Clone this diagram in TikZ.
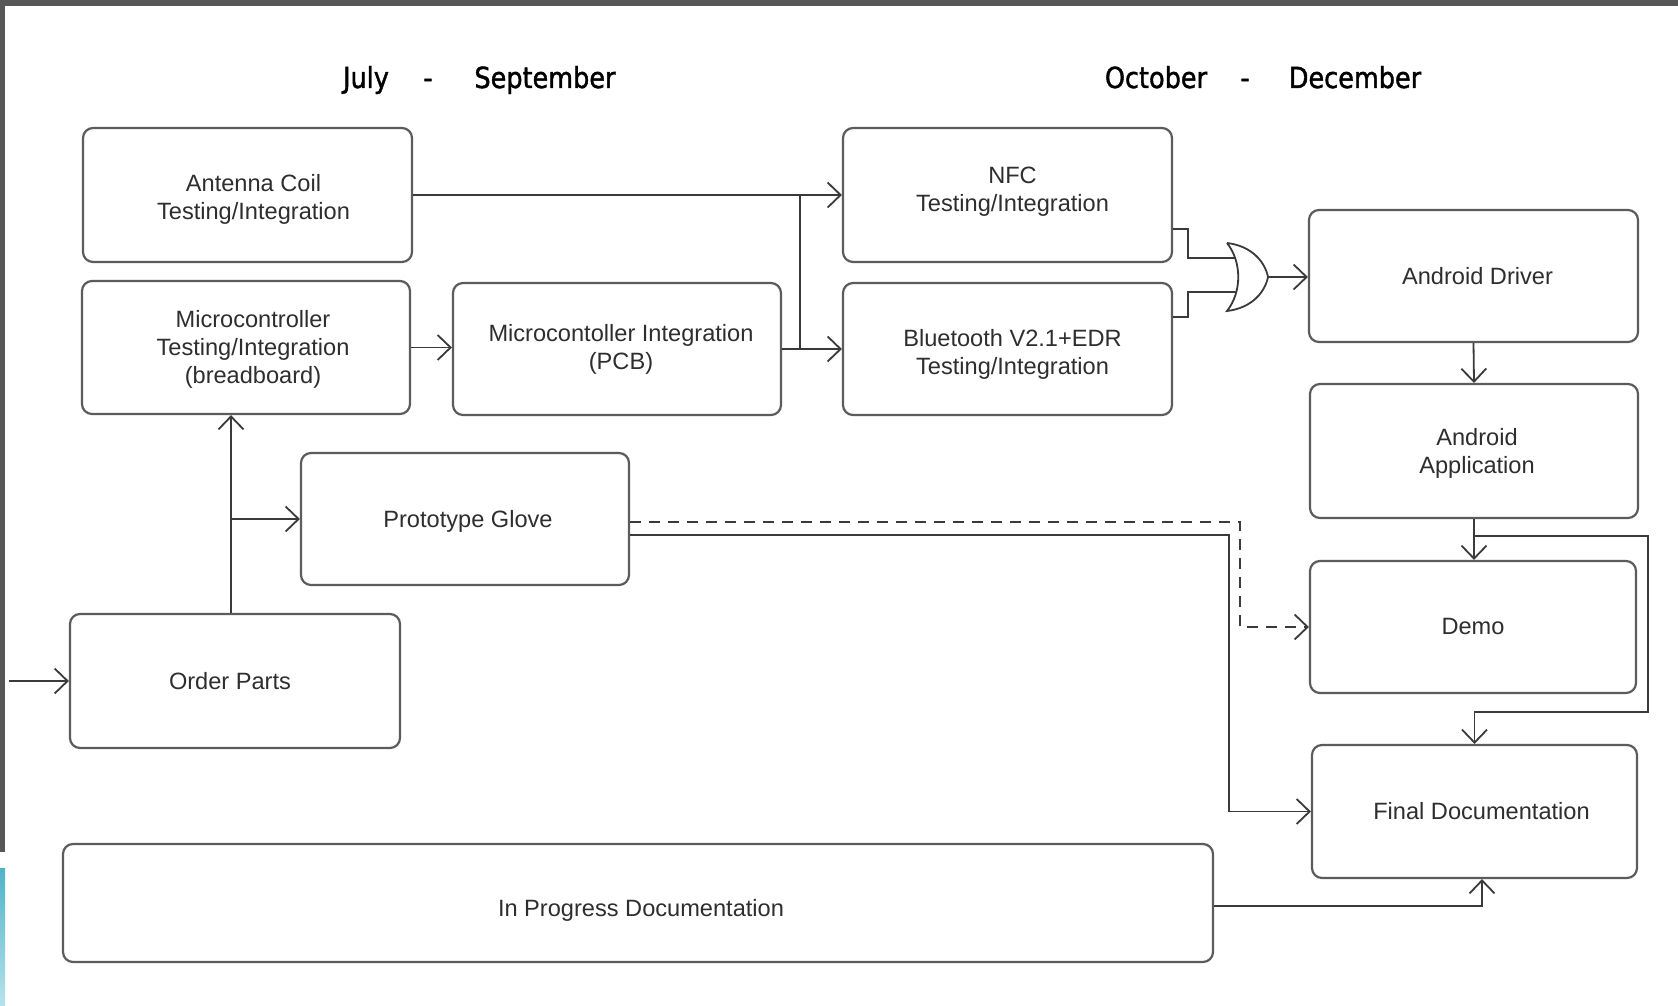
\documentclass[tikz,border=0pt]{standalone}
\usepackage{fontspec}
\setmainfont{Liberation Sans}
\newfontfamily\hdrfont[FakeBold=1.4,FakeStretch=0.88]{DejaVu Sans}
\usetikzlibrary{arrows.meta,calc}
\definecolor{boxline}{HTML}{5C5C5C}
\definecolor{linec}{HTML}{3A3A3A}
\definecolor{txt}{HTML}{2E2E2E}
\definecolor{framebar}{HTML}{575757}
\definecolor{stripa}{HTML}{4FB3C8}
\definecolor{stripb}{HTML}{B8E2EC}
\begin{document}
\begin{tikzpicture}[x=1pt,y=-1pt,
  box/.style={draw=boxline, line width=2.2pt, rounded corners=10pt, fill=white, inner sep=0pt},
  lbl/.style={text=txt, align=center, font=\fontsize{23.6}{27.8}\selectfont, inner sep=0pt},
  conn/.style={draw=linec, line width=1.8pt},
  arr/.style={conn, -{Straight Barb[length=13pt,width=25pt]}},
  hdr/.style={font=\hdrfont\fontsize{29}{32}\selectfont, anchor=base, text=black}]
\useasboundingbox (0,0) rectangle (1678,1006);
\fill[white] (0,0) rectangle (1678,1006);
\fill[framebar] (0,0) rectangle (1678,6);
\fill[framebar] (0,0) rectangle (5,852);
\shade[top color=stripa, bottom color=stripb] (0,868) rectangle (5,1006);

% headers
\node[hdr] (h1) at (366,88) {July};
\node[hdr] (h2) at (428,88) {-};
\node[hdr] (h3) at (545,88) {September};
\node[hdr] (h4) at (1156,88) {October};
\node[hdr] (h5) at (1245,88) {-};
\node[hdr] (h6) at (1355,88) {December};

% boxes
\node[box, minimum width=329pt, minimum height=134pt,
  label={[lbl,name=antenna-t,xshift=6pt,yshift=-4pt]center:{Antenna Coil\\Testing/Integration}}] (antenna) at (247.5,195) {};
\node[box, minimum width=328pt, minimum height=133pt,
  label={[lbl,name=microtest-t,xshift=7pt,yshift=-2pt]center:{Microcontroller\\Testing/Integration\\(breadboard)}}] (microtest) at (246,347.5) {};
\node[box, minimum width=328pt, minimum height=132pt,
  label={[lbl,name=microint-t,xshift=4pt]center:{Microcontoller Integration\\(PCB)}}] (microint) at (617,349) {};
\node[box, minimum width=329pt, minimum height=134pt,
  label={[lbl,name=nfc-t,xshift=5pt,yshift=3pt]center:{NFC\\Testing/Integration}}] (nfc) at (1007.5,195) {};
\node[box, minimum width=329pt, minimum height=132pt,
  label={[lbl,name=bt-t,xshift=5pt,yshift=-5pt]center:{Bluetooth V2.1+EDR\\Testing/Integration}}] (bt) at (1007.5,349) {};
\node[box, minimum width=329pt, minimum height=132pt,
  label={[lbl,name=driver-t,xshift=4pt]center:{Android Driver}}] (driver) at (1473.5,276) {};
\node[box, minimum width=328pt, minimum height=134pt,
  label={[lbl,name=app-t,xshift=3pt,yshift=-2pt]center:{Android\\Application}}] (app) at (1474,451) {};
\node[box, minimum width=326pt, minimum height=132pt,
  label={[lbl,name=demo-t,yshift=1pt]center:{Demo}}] (demo) at (1473,627) {};
\node[box, minimum width=325pt, minimum height=133pt,
  label={[lbl,name=final-t,xshift=7pt]center:{Final Documentation}}] (final) at (1474.5,811.5) {};
\node[box, minimum width=328pt, minimum height=132pt,
  label={[lbl,name=glove-t,xshift=3pt,yshift=-2pt]center:{Prototype Glove}}] (glove) at (465,519) {};
\node[box, minimum width=330pt, minimum height=134pt,
  label={[lbl,name=order-t,xshift=-5pt]center:{Order Parts}}] (order) at (235,681) {};
\node[box, minimum width=1150pt, minimum height=118pt,
  label={[lbl,name=ipd-t,xshift=3pt,yshift=-7pt]center:{In Progress Documentation}}] (ipd) at (638,903) {};

% connectors
\coordinate (in) at (9,681);
\draw[arr] (in) -- (order.west);
\coordinate (o1) at ([xshift=-4pt]order.north);
\draw[arr] (o1) -- (o1 |- microtest.south);
\draw[arr] (o1 |- glove.west) -- (glove.west);
\draw[arr] (microtest.east) -- (microtest.east -| microint.west);
\draw[arr] (antenna.east) -- (nfc.west);
\draw[arr] (microint.east) -- (bt.west);
\coordinate (j1) at (800,195);
\draw[conn] (j1) -- (j1 |- bt.west);

% OR gate
\coordinate (gtop) at (1227,243);
\coordinate (gbot) at (1227,311);
\coordinate (orout) at (1268,277);
\draw[conn, fill=white] (gtop) .. controls (1252,246) and (1265,262) .. (orout)
  .. controls (1265,292) and (1252,308) .. (gbot)
  .. controls (1242,292) and (1242,262) .. (gtop);
\coordinate (gin1) at (1236,258);
\coordinate (gin2) at (1236,292);
\draw[conn] ([yshift=-34pt]nfc.east) -- ++(15,0) |- (gin1);
\draw[conn] ([yshift=32pt]bt.east) -- ++(15,0) |- (gin2);
\draw[arr] (orout) -- (orout -| driver.west);

\draw[arr] (driver.south) -- (app.north);
\draw[arr] (app.south) -- (app.south |- demo.north);
\coordinate (a1) at ($(app.south)+(0,17)$);
\draw[arr] (a1) -- ++(174,0) |- ($(final.north)+(0,-32)$) -- (final.north);

\coordinate (d1) at (1240,522);
\draw[arr, dash pattern=on 11pt off 8pt] ([yshift=-3pt]glove.east) -- (d1) |- (demo.west);
\coordinate (s1) at (1229,535);
\draw[arr] ([yshift=-16pt]glove.east) -- (s1) |- (final.west);
\draw[arr] ([yshift=-3pt]ipd.east) -| ([xshift=7.5pt]final.south);
\end{tikzpicture}
\end{document}
